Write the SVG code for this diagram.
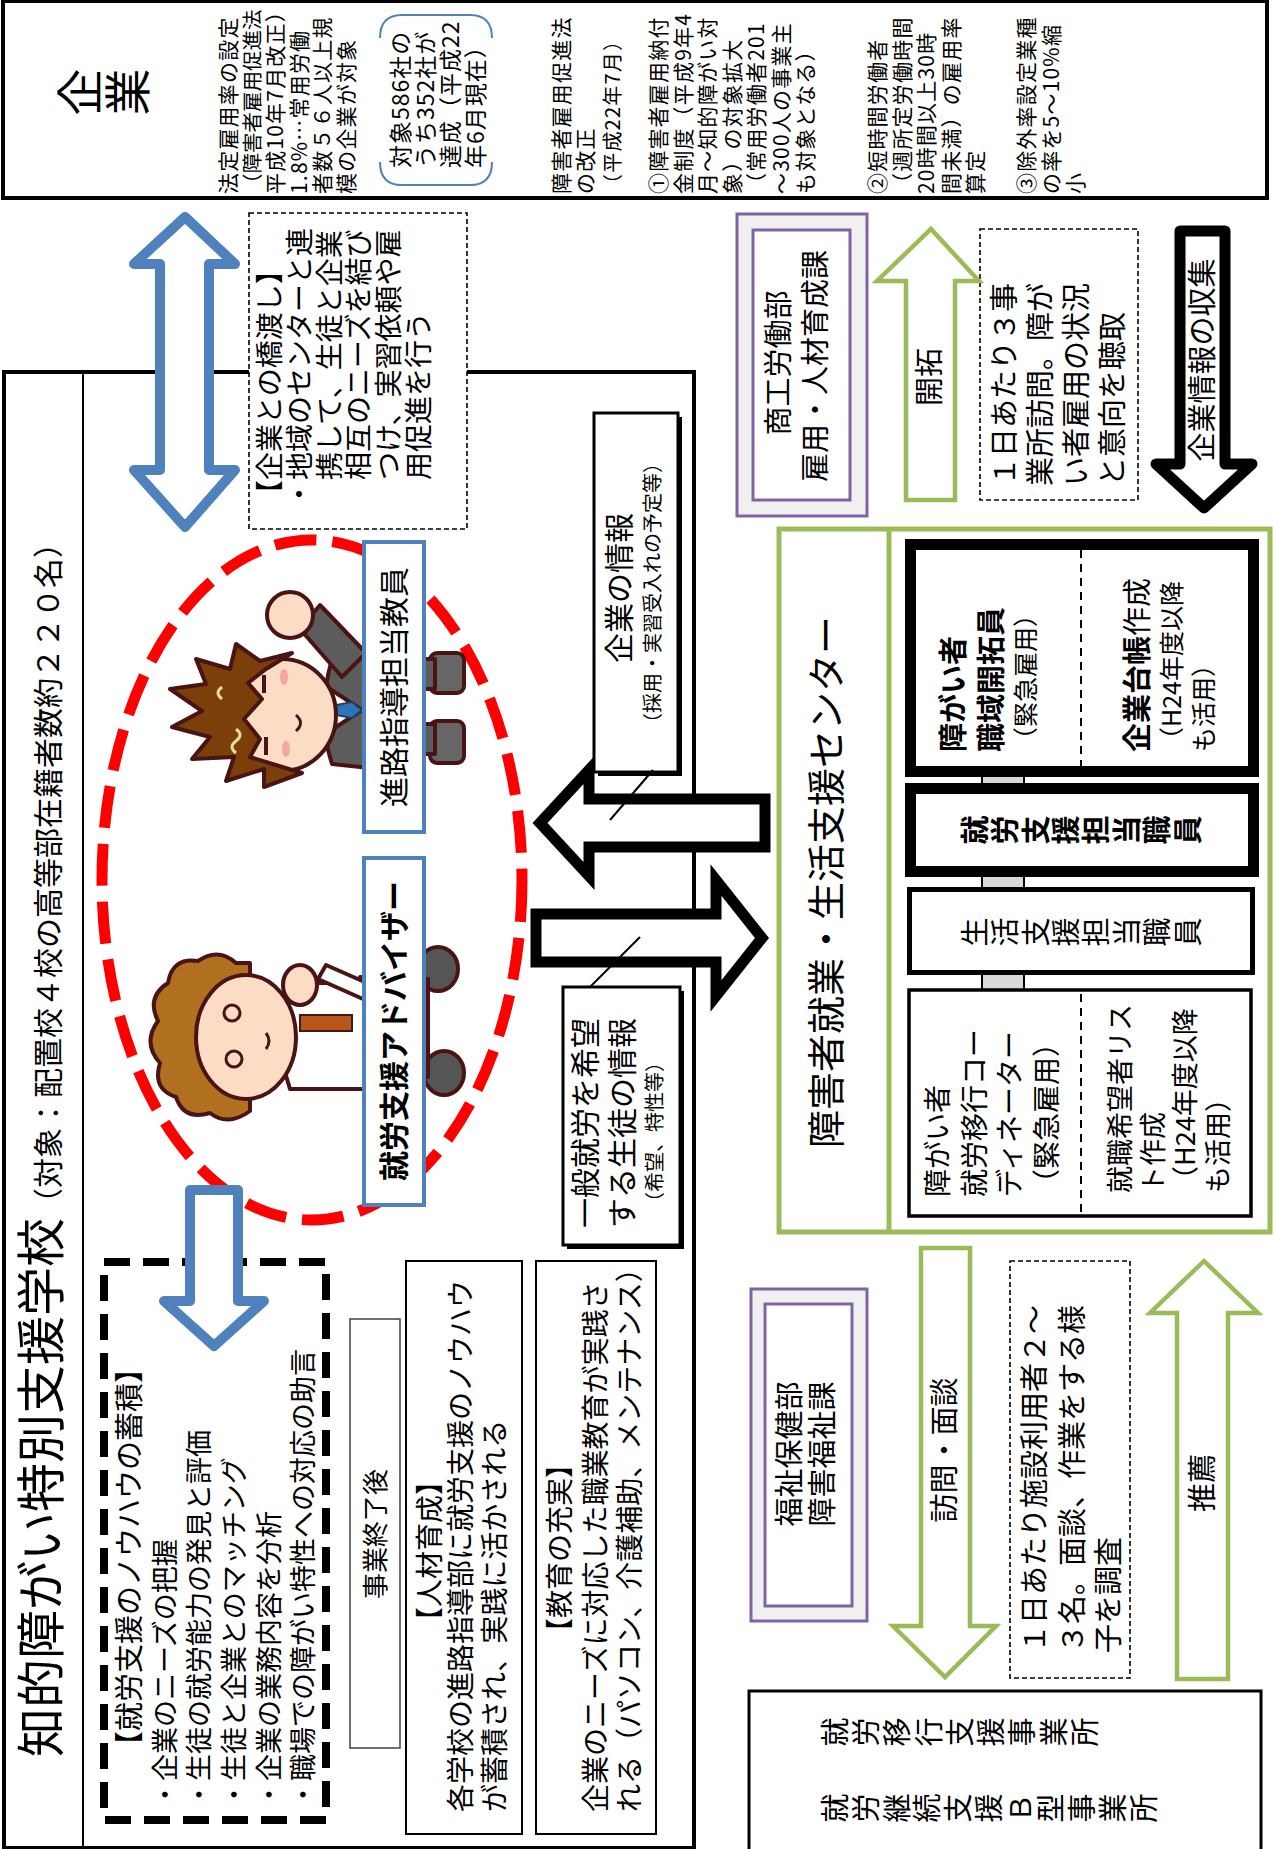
<svg xmlns="http://www.w3.org/2000/svg" width="1274" height="1849" viewBox="0 0 1274 1849">
<defs>
<style>
text{font-family:'Noto Sans CJK JP','Noto Sans CJK SC',sans-serif;fill:#000}
.b{font-weight:bold}
.box{fill:#fff;stroke:#000}
.dash{fill:#fff;stroke:#000;stroke-width:1.6;stroke-dasharray:5 3}
.blueArrow{fill:#fff;stroke:#4F81BD;stroke-width:10;stroke-linejoin:round}
.greenArrow{fill:#fff;stroke:#9BBB59;stroke-width:4.5;stroke-linejoin:miter}
.blackArrow{fill:#fff;stroke:#000;stroke-width:11}
.purpleOuter{fill:#F0F0F0;stroke:#8064A2;stroke-width:3}
.purpleInner{fill:#fff;stroke:#8064A2;stroke-width:3}
.label{fill:#fff;stroke:#4F81BD;stroke-width:4}
.ink{stroke:#4a1414;stroke-width:4;stroke-linejoin:round}
.law{font-size:21px;letter-spacing:1.2px}
.tight{font-size:20.5px;letter-spacing:0}
</style>
</defs>
<rect width="1274" height="1849" fill="#fff"/>

<!-- companies (top band) -->
<g id="company">
<rect class="box" x="3" y="1" width="1264" height="197" stroke-width="4"/>
<text font-size="47" text-anchor="middle" transform="rotate(-90)"><tspan x="-92" y="97">企</tspan><tspan x="-92" y="145">業</tspan></text>
<text class="law" transform="translate(236,194) rotate(-90)"><tspan x="0" y="0">法定雇用率の設定</tspan><tspan class="tight" x="0" y="23.5">（障害者雇用促進法</tspan><tspan x="0" y="47">平成10年7月改正）</tspan><tspan x="0" y="70.5">1.8%…常用労働</tspan><tspan x="0" y="94">者数５６人以上規</tspan><tspan x="0" y="117.5">模の企業が対象</tspan></text>
<path d="M380,38 Q380,15 402,15 L470,15 Q492,15 492,38 M380,162 Q380,185 402,185 L470,185 Q492,185 492,162" fill="none" stroke="#4F81BD" stroke-width="2"/>
<text font-size="23" letter-spacing="1" transform="translate(409,168) rotate(-90)"><tspan x="0" y="0">対象586社の</tspan><tspan x="0" y="25">うち352社が</tspan><tspan x="0" y="50">達成（平成22</tspan><tspan x="0" y="75">年6月現在）</tspan></text>
<text class="law" transform="translate(569,194) rotate(-90)"><tspan x="0" y="0">障害者雇用促進法</tspan><tspan x="0" y="23.5">の改正</tspan><tspan x="0" y="51" style="font-size:20px">（平成22年7月）</tspan></text>
<text class="law" transform="translate(666,194) rotate(-90)"><tspan x="0" y="0">①障害者雇用納付</tspan><tspan x="0" y="24.5">金制度（平成9年4</tspan><tspan x="0" y="49">月～知的障がい対</tspan><tspan x="0" y="73.5">象）の対象拡大</tspan><tspan x="0" y="98">（常用労働者201</tspan><tspan x="0" y="122.5">～300人の事業主</tspan><tspan x="0" y="147">も対象となる）</tspan></text>
<text class="law" transform="translate(885,194) rotate(-90)"><tspan x="0" y="0">②短時間労働者</tspan><tspan x="0" y="24.5">（週所定労働時間</tspan><tspan x="0" y="49">20時間以上30時</tspan><tspan x="0" y="73.5">間未満）の雇用率</tspan><tspan x="0" y="98">算定</tspan></text>
<text class="law" transform="translate(1034,194) rotate(-90)"><tspan x="0" y="0">③除外率設定業種</tspan><tspan x="0" y="24.5">の率を5～10%縮</tspan><tspan x="0" y="49">小</tspan></text>
</g>

<!-- special support school -->
<g id="school">
<rect class="box" x="4" y="372" width="690" height="1476" stroke-width="4"/>
<line x1="83" y1="372" x2="83" y2="1849" stroke="#000" stroke-width="2"/>
<text transform="translate(59,1757) rotate(-90)"><tspan font-size="49">知的障がい特別支援学校</tspan><tspan font-size="30">（対象：配置校４校の高等部在籍者数約２２０名）</tspan></text>
</g>

<g id="bridge-note">
<rect class="dash" x="249" y="213" width="218" height="316"/>
<text font-size="28" transform="translate(279.5,508) rotate(-90)"><tspan x="0" y="0">【企業との橋渡し】</tspan><tspan x="0" y="30">・地域のセンターと連</tspan><tspan x="0" y="60">　携して、生徒と企業</tspan><tspan x="0" y="89">　相互のニーズを結び</tspan><tspan x="0" y="119">　つけ、実習依頼や雇</tspan><tspan x="0" y="149">　用促進を行う</tspan></text>
</g>

<g id="knowhow">
<rect x="104" y="1262" width="222" height="558" fill="none" stroke="#000" stroke-width="8" stroke-dasharray="26 13"/>
<text font-size="27" transform="translate(140,1808) rotate(-90)"><tspan x="48" y="0" font-size="29">【就労支援のノウハウの蓄積】</tspan><tspan x="0" y="35">・企業のニーズの把握</tspan><tspan x="0" y="69">・生徒の就労能力の発見と評価</tspan><tspan x="0" y="104">・生徒と企業とのマッチング</tspan><tspan x="0" y="139">・企業の業務内容を分析</tspan><tspan x="0" y="173">・職場での障がい特性への対応の助言</tspan></text>
</g>

<g id="after-project">
<rect x="350" y="1319" width="50" height="429" fill="#fff" stroke="#404040" stroke-width="1.5"/>
<text font-size="26" text-anchor="middle" transform="translate(385,1534) rotate(-90)">事業終了後</text>
</g>

<g id="training">
<rect class="box" x="406" y="1261" width="116" height="573" stroke-width="2"/>
<text font-size="28" text-anchor="middle" transform="translate(440,1551) rotate(-90)">【人材育成】</text>
<text font-size="28" transform="translate(471,1812) rotate(-90)"><tspan x="0" y="0">各学校の進路指導部に就労支援のノウハウ</tspan><tspan x="0" y="34">が蓄積され、実践に活かされる</tspan></text>
</g>

<g id="education">
<rect class="box" x="536" y="1261" width="120" height="573" stroke-width="2"/>
<text font-size="28" text-anchor="middle" transform="translate(570,1548) rotate(-90)">【教育の充実】</text>
<text font-size="28" transform="translate(606,1812) rotate(-90)"><tspan x="0" y="0">企業のニーズに対応した職業教育が実践さ</tspan><tspan x="0" y="34">れる（パソコン、介護補助、メンテナンス）</tspan></text>
</g>

<!-- staff circle -->
<g id="staff-circle">
<ellipse cx="312" cy="880" rx="210" ry="340" fill="none" stroke="#FF0000" stroke-width="11" stroke-dasharray="42 16"/>
</g>

<g id="teacher-figure" transform="translate(0,1849) rotate(-90)">
<rect class="ink" x="1086" y="430" width="42" height="34" rx="7" fill="#666"/>
<rect class="ink" x="1156" y="430" width="40" height="34" rx="7" fill="#666"/>
<rect class="ink" x="1095" y="385" width="30" height="50" fill="#5c5c5c"/>
<rect class="ink" x="1160" y="385" width="30" height="50" fill="#5c5c5c"/>
<path class="ink" d="M1085,332 Q1134,316 1190,332 L1198,398 L1078,398 Z" fill="#5c5c5c"/>
<path class="ink" d="M1172,342 L1220,300 L1244,320 L1196,366 Z" fill="#5c5c5c"/>
<circle class="ink" cx="1234" cy="290" r="23" fill="#FCDCC4"/>
<path class="ink" d="M1118,330 L1139,362 L1160,330 Z" fill="#fff" stroke-width="3"/>
<path d="M1134,336 L1144,336 L1147,352 L1139,362 L1131,352 Z" fill="#2E75B6" stroke="#1f3f66" stroke-width="2"/>
<ellipse class="ink" cx="1134" cy="282" rx="56" ry="54" fill="#FCDCC4"/>
<path class="ink" d="M1076,302 L1062,264 L1080,264 L1068,226 L1092,234 L1090,192 L1112,210 L1122,172 L1138,202 L1160,170 L1165,206 L1190,196 L1180,230 L1205,236 L1188,260 L1196,292 L1180,266 L1166,248 L1150,262 L1130,244 L1110,260 L1092,250 Z" fill="#7B3F0A"/>
<path d="M1096,236 q6,-8 12,0 q6,8 12,0 M1150,222 q6,-8 12,0" fill="none" stroke="#E8D9A0" stroke-width="3"/>
<path d="M1094,266 h18 M1156,264 h18" fill="none" stroke="#4a1414" stroke-width="4"/>
<path d="M1118,296 q8,9 16,0" fill="none" stroke="#4a1414" stroke-width="3"/>
<ellipse cx="1100" cy="286" rx="8" ry="4" fill="#F4A6A6"/>
<ellipse cx="1172" cy="284" rx="8" ry="4" fill="#F4A6A6"/>
</g>

<g id="advisor-figure" transform="translate(0,1849) rotate(-90)">
<ellipse class="ink" cx="776" cy="444" rx="22" ry="20" fill="#555"/>
<ellipse class="ink" cx="880" cy="438" rx="22" ry="20" fill="#555"/>
<path class="ink" d="M768,360 L872,360 L870,428 L772,428 Z" fill="#BFA77A"/>
<path class="ink" d="M760,290 Q812,272 866,290 L866,368 L760,368 Z" fill="#fff"/>
<rect x="818" y="300" width="16" height="52" fill="#B5561B" stroke="#4a1414" stroke-width="2"/>
<path class="ink" d="M846,372 L870,318 L884,326 L862,376 Z" fill="#fff"/>
<path class="ink" d="M738,250 Q722,228 736,210 Q728,184 752,176 Q760,152 786,160 Q806,142 828,158 Q852,146 866,168 Q892,172 888,198 Q902,218 886,236 L886,250 Z" fill="#B07020"/>
<ellipse class="ink" cx="812" cy="246" rx="62" ry="50" fill="#FCDCC4"/>
<circle cx="790" cy="234" r="8" fill="none" stroke="#4a1414" stroke-width="3"/>
<circle cx="836" cy="232" r="8" fill="none" stroke="#4a1414" stroke-width="3"/>
<path d="M800,266 q8,6 16,0" fill="none" stroke="#4a1414" stroke-width="3"/>
<ellipse class="ink" cx="864" cy="300" rx="20" ry="17" fill="#FCDCC4"/>
</g>

<g id="teacher-label">
<rect class="label" x="364" y="542" width="60" height="290"/>
<text font-size="30" text-anchor="middle" transform="translate(405,687) rotate(-90)">進路指導担当教員</text>
</g>
<g id="advisor-label">
<rect class="label" x="364" y="858" width="60" height="347"/>
<text class="b" font-size="30" text-anchor="middle" transform="translate(405,1031) rotate(-90)">就労支援アドバイザー</text>
</g>

<g id="company-info">
<rect x="598" y="417" width="84" height="359" fill="#000"/>
<rect class="box" x="594" y="413" width="84" height="359" stroke-width="3"/>
<text font-size="30" text-anchor="middle" transform="translate(630,588) rotate(-90)">企業の情報</text>
<text font-size="20" text-anchor="middle" transform="translate(660,593) rotate(-90)">（採用・実習受入れの予定等）</text>
</g>

<g id="student-info">
<rect x="567" y="991" width="117" height="258" fill="#000"/>
<rect class="box" x="563" y="987" width="117" height="258" stroke-width="3"/>
<text font-size="30" transform="translate(596,1228) rotate(-90)"><tspan x="0" y="0">一般就労を希望</tspan><tspan x="0" y="37">する生徒の情報</tspan></text>
<text font-size="20" transform="translate(662,1212) rotate(-90)">（希望、特性等）</text>
</g>

<!-- employment & life support center -->
<g id="support-center">
<rect x="779" y="529" width="491" height="703" fill="#fff" stroke="#9BBB59" stroke-width="5"/>
<line x1="889" y1="529" x2="889" y2="1232" stroke="#9BBB59" stroke-width="5"/>
<text font-size="38" text-anchor="middle" transform="translate(840,882) rotate(-90)">障害者就業・生活支援センター</text>
<rect x="982" y="765" width="42" height="230" fill="#D9D9D9" stroke="#000" stroke-width="2"/>
</g>

<g id="job-developer">
<rect class="box" x="910.5" y="544.5" width="343" height="227" stroke-width="11"/>
<line x1="1081" y1="550" x2="1081" y2="766" stroke="#000" stroke-width="2" stroke-dasharray="8 6"/>
<text font-size="29" transform="translate(964,752) rotate(-90)"><tspan class="b" x="0" y="0">障がい者</tspan><tspan class="b" x="0" y="38">職域開拓員</tspan><tspan x="0" y="71" font-size="25">（緊急雇用）</tspan></text>
<text font-size="29" transform="translate(1148,752) rotate(-90)"><tspan x="0" y="0"><tspan class="b">企業台帳</tspan>作成</tspan><tspan x="0" y="33" font-size="25">（H24年度以降</tspan><tspan x="0" y="65" font-size="25">も活用）</tspan></text>
</g>

<g id="work-support-staff">
<rect class="box" x="910.5" y="788.5" width="343" height="83" stroke-width="11"/>
<text class="b" font-size="29" text-anchor="middle" transform="rotate(-90)"><tspan x="-830" y="985.7">就</tspan><tspan x="-830" y="1016.1">労</tspan><tspan x="-830" y="1046.5">支</tspan><tspan x="-830" y="1076.9">援</tspan><tspan x="-830" y="1107.3">担</tspan><tspan x="-830" y="1137.7">当</tspan><tspan x="-830" y="1168.1">職</tspan><tspan x="-830" y="1198.5">員</tspan></text>
</g>

<g id="life-support-staff">
<rect class="box" x="909.5" y="889.5" width="343" height="83" stroke-width="5"/>
<text font-size="29" text-anchor="middle" transform="rotate(-90)"><tspan x="-932" y="985.7">生</tspan><tspan x="-932" y="1016.1">活</tspan><tspan x="-932" y="1046.5">支</tspan><tspan x="-932" y="1076.9">援</tspan><tspan x="-932" y="1107.3">担</tspan><tspan x="-932" y="1137.7">当</tspan><tspan x="-932" y="1168.1">職</tspan><tspan x="-932" y="1198.5">員</tspan></text>
</g>

<g id="transition-coordinator">
<rect class="box" x="909" y="990" width="342" height="226" stroke-width="3.5"/>
<line x1="1081" y1="994" x2="1081" y2="1212" stroke="#000" stroke-width="2" stroke-dasharray="8 6"/>
<text font-size="28" transform="translate(948,1197) rotate(-90)"><tspan x="0" y="0">障がい者</tspan><tspan x="0" y="37">就労移行コー</tspan><tspan x="0" y="72">ディネーター</tspan><tspan x="0" y="109">（緊急雇用）</tspan></text>
<text font-size="27" transform="translate(1130,1193) rotate(-90)"><tspan x="0" y="0">就職希望者リス</tspan><tspan x="0" y="33">ト作成</tspan><tspan x="0" y="65">（H24年度以降</tspan><tspan x="0" y="98">も活用）</tspan></text>
</g>

<!-- prefectural departments -->
<g id="commerce-dept">
<rect class="purpleOuter" x="737" y="214" width="130" height="302"/>
<rect class="purpleInner" x="753" y="230" width="97" height="270"/>
<text font-size="29" text-anchor="middle" transform="translate(789,363) rotate(-90)">商工労働部</text>
<text font-size="29" text-anchor="middle" transform="translate(826,366) rotate(-90)">雇用・人材育成課</text>
</g>

<g id="welfare-dept">
<rect class="purpleOuter" x="751" y="1289" width="116" height="332"/>
<rect class="purpleInner" x="765" y="1304" width="87" height="302"/>
<text font-size="29" text-anchor="middle" transform="translate(800,1454) rotate(-90)">福祉保健部</text>
<text font-size="29" text-anchor="middle" transform="translate(833,1454) rotate(-90)">障害福祉課</text>
</g>

<g id="visit-note-companies">
<rect class="dash" x="980" y="229" width="158" height="271"/>
<text font-size="29" transform="translate(1015,486) rotate(-90)"><tspan x="0" y="0">１日あたり３事</tspan><tspan x="0" y="36">業所訪問。障が</tspan><tspan x="0" y="72">い者雇用の状況</tspan><tspan x="0" y="108">と意向を聴取</tspan></text>
</g>

<g id="visit-note-facilities">
<rect class="dash" x="1010" y="1261" width="120" height="417"/>
<text font-size="29" transform="translate(1045,1653) rotate(-90)"><tspan x="0" y="0">１日あたり施設利用者２～</tspan><tspan x="0" y="38">３名。面談、作業をする様</tspan><tspan x="0" y="74">子を調査</tspan></text>
</g>

<g id="work-offices">
<rect class="box" x="749" y="1691" width="512" height="162" stroke-width="3"/>
<text font-size="29" text-anchor="middle" transform="rotate(-90)"><tspan x="-1732" y="845.7">就</tspan><tspan x="-1732" y="877">労</tspan><tspan x="-1732" y="908.2">移</tspan><tspan x="-1732" y="939.5">行</tspan><tspan x="-1732" y="970.7">支</tspan><tspan x="-1732" y="1002">援</tspan><tspan x="-1732" y="1033.2">事</tspan><tspan x="-1732" y="1064.5">業</tspan><tspan x="-1732" y="1095.7">所</tspan></text>
<text font-size="29" text-anchor="middle" transform="rotate(-90)"><tspan x="-1808" y="845.7">就</tspan><tspan x="-1808" y="876.6">労</tspan><tspan x="-1808" y="907.5">継</tspan><tspan x="-1808" y="938.4">続</tspan><tspan x="-1808" y="969.3">支</tspan><tspan x="-1808" y="1000.2">援</tspan><tspan x="-1808" y="1031.1">Ｂ</tspan><tspan x="-1808" y="1062">型</tspan><tspan x="-1808" y="1092.9">事</tspan><tspan x="-1808" y="1123.8">業</tspan><tspan x="-1808" y="1154.7">所</tspan></text>
</g>

<!-- connectors -->
<g id="connectors">
<path class="blueArrow" d="M185,217 L235,264 L209,264 L209,470 L235,470 L185,527 L134,470 L160,470 L160,264 L134,264 Z"/>
<path class="blueArrow" d="M190,1190 L238,1190 L238,1301 L264,1301 L214,1346 L164,1301 L190,1301 Z"/>
<path class="blackArrow" d="M540,823 L589,770 L589,799 L765,799 L765,847 L589,847 L589,876 Z"/>
<path class="blackArrow" d="M536,914 L716,914 L716,880 L762,938 L716,996 L716,962 L536,962 Z"/>
<line x1="653" y1="770" x2="610" y2="820" stroke="#000" stroke-width="2"/>
<line x1="640" y1="937" x2="590" y2="987" stroke="#000" stroke-width="2"/>
<path class="greenArrow" d="M931,229 L979,281 L955,281 L955,500 L906,500 L906,281 L877,281 Z"/>
<text font-size="29" text-anchor="middle" transform="translate(940,377) rotate(-90)">開拓</text>
<path class="blackArrow" stroke-linejoin="round" d="M1180,231 L1225,231 L1225,464 L1252,464 L1204,508 L1156,464 L1180,464 Z"/>
<text font-size="29" text-anchor="middle" transform="translate(1213,360) rotate(-90)">企業情報の収集</text>
<path class="greenArrow" d="M921,1248 L970,1248 L970,1626 L996,1626 L945,1677 L893,1626 L921,1626 Z"/>
<text font-size="29" text-anchor="middle" transform="translate(955,1450) rotate(-90)">訪問・面談</text>
<path class="greenArrow" d="M1204,1261 L1258,1313 L1228,1313 L1228,1679 L1177,1679 L1177,1313 L1150,1313 Z"/>
<text font-size="29" text-anchor="middle" transform="translate(1213,1483) rotate(-90)">推薦</text>
</g>
</svg>
